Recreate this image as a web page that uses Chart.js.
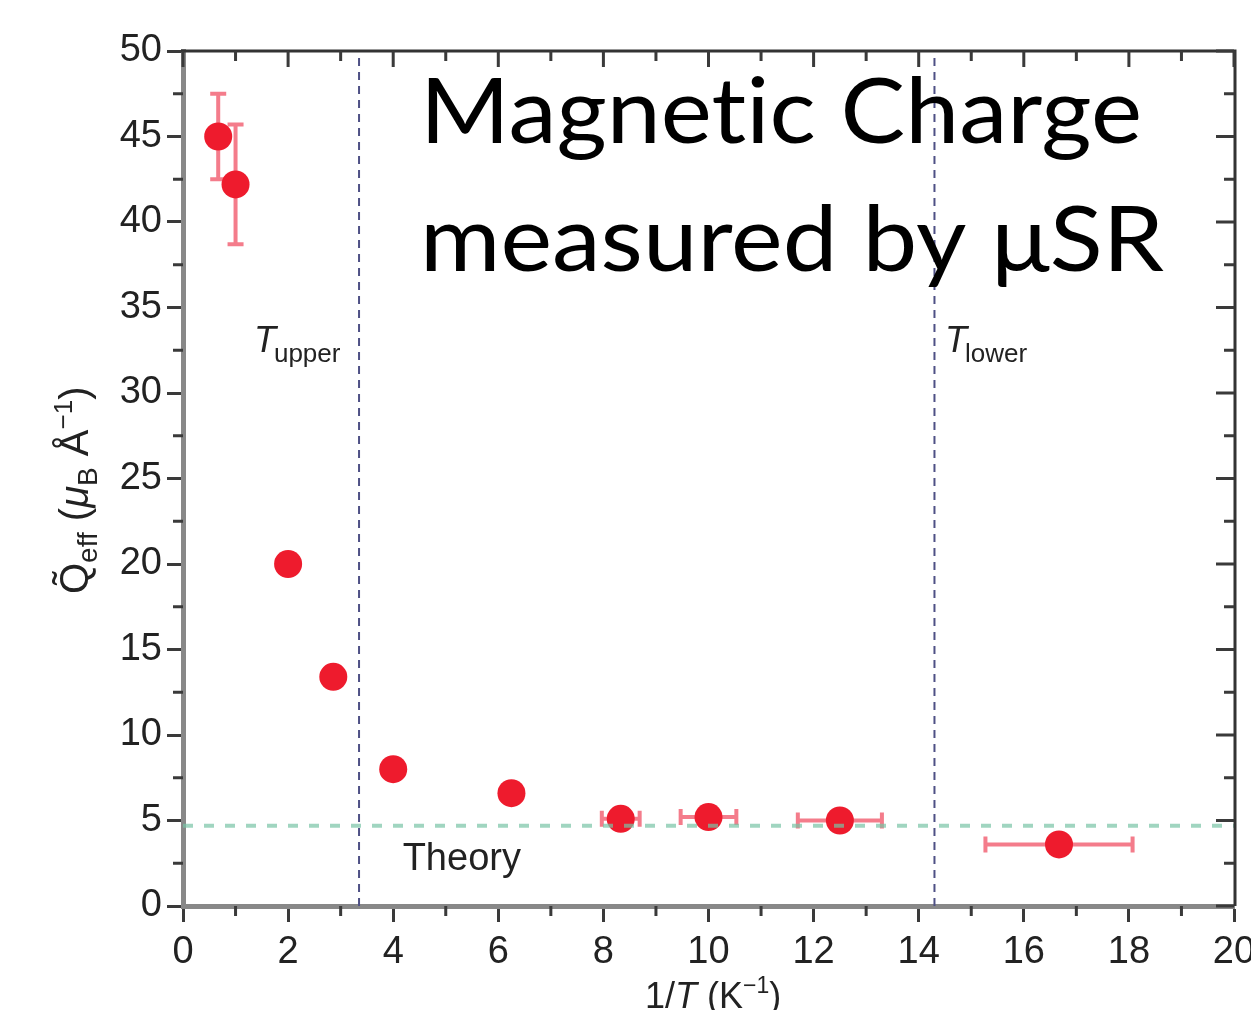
<!DOCTYPE html>
<html><head><meta charset="utf-8">
<script src="https://cdn.jsdelivr.net/npm/chart.js@4.4.0/dist/chart.umd.min.js"></script>
<style>html,body{margin:0;padding:0;background:#fff;overflow:hidden}#wrap{width:1251px;height:1010px;position:relative}</style>
</head><body><div id="wrap"><canvas id="c" width="1251" height="1010"></canvas></div>
<script>
// ---- data ----
const invT     = [0.67, 1.0, 2.0, 2.86, 4.0, 6.25, 8.33, 10.0, 12.5, 16.67];
const qEff     = [45.0, 42.2, 20.0, 13.4, 8.0, 6.6, 5.1, 5.2, 5.0, 3.6];
const qErr     = [2.5, 3.5, 0, 0, 0, 0, 0, 0, 0, 0];
const invTErr  = [0, 0, 0, 0, 0, 0, 0.36, 0.53, 0.8, 1.4];
const theoryValue = 4.7;
const tUpper = 3.35;
const tLower = 14.3;
const xTickValues = [0, 2, 4, 6, 8, 10, 12, 14, 16, 18, 20];
const yTickValues = [0, 5, 10, 15, 20, 25, 30, 35, 40, 45, 50];
const titleLines = ['Magnet\u200Cic Charge', 'measured by \u03BCSR'];

const TICKFONT = '"Liberation Sans", Arial, sans-serif';
const CA = {left: 183, top: 51, right: 1234, bottom: 906};

const points = invT.map((x, i) => ({x, y: qEff[i]}));

const decor = {
  id: 'decor',
  beforeDatasetDraw(chart, args) {
    if (args.meta.label !== 'data') return;
    const {ctx, scales: {x, y}} = chart;
    ctx.save();
    ctx.strokeStyle = 'rgba(240,80,100,0.75)';
    ctx.lineWidth = 4;
    const cap = 8;
    invT.forEach((v, i) => {
      const px = x.getPixelForValue(v), py = y.getPixelForValue(qEff[i]);
      if (qErr[i] > 0) {
        const t = y.getPixelForValue(qEff[i] + qErr[i]), b = y.getPixelForValue(qEff[i] - qErr[i]);
        ctx.beginPath();
        ctx.moveTo(px, t); ctx.lineTo(px, b);
        ctx.moveTo(px - cap, t); ctx.lineTo(px + cap, t);
        ctx.moveTo(px - cap, b); ctx.lineTo(px + cap, b);
        ctx.stroke();
      }
      if (invTErr[i] > 0) {
        const l = x.getPixelForValue(v - invTErr[i]), r = x.getPixelForValue(v + invTErr[i]);
        ctx.beginPath();
        ctx.moveTo(l, py); ctx.lineTo(r, py);
        ctx.moveTo(l, py - cap); ctx.lineTo(l, py + cap);
        ctx.moveTo(r, py - cap); ctx.lineTo(r, py + cap);
        ctx.stroke();
      }
    });
    ctx.restore();
  },
  afterDraw(chart) {
    const {ctx, scales: {x, y}, chartArea: ca} = chart;
    ctx.save();
    // top and right frame
    ctx.strokeStyle = '#333';
    ctx.lineWidth = 3;
    ctx.beginPath();
    ctx.moveTo(ca.left - 2, ca.top); ctx.lineTo(ca.right + 1, ca.top); ctx.lineTo(ca.right + 1, ca.bottom);
    ctx.stroke();
    // ticks: minor outside (bottom/left), inward on top/right
    ctx.lineWidth = 3;
    ctx.strokeStyle = '#3a3a3a';
    ctx.beginPath();
    for (let i = 0; i < xTickValues.length; i++) {
      const v = xTickValues[i];
      const px = x.getPixelForValue(v);
      ctx.moveTo(px, ca.top); ctx.lineTo(px, ca.top + 16);
      if (i < xTickValues.length - 1) {
        const m = x.getPixelForValue((v + xTickValues[i + 1]) / 2);
        ctx.moveTo(m, ca.bottom); ctx.lineTo(m, ca.bottom + 10);
        ctx.moveTo(m, ca.top); ctx.lineTo(m, ca.top + 10);
      }
    }
    for (let i = 0; i < yTickValues.length; i++) {
      const v = yTickValues[i];
      const py = y.getPixelForValue(v);
      ctx.moveTo(ca.right, py); ctx.lineTo(ca.right - 18, py);
      if (i < yTickValues.length - 1) {
        const m = y.getPixelForValue((v + yTickValues[i + 1]) / 2);
        ctx.moveTo(ca.left, m); ctx.lineTo(ca.left - 10, m);
        ctx.moveTo(ca.right, m); ctx.lineTo(ca.right - 10, m);
      }
    }
    ctx.stroke();

    // T labels and Theory
    ctx.fillStyle = '#222';
    ctx.textBaseline = 'alphabetic';
    ctx.textAlign = 'left';
    const tLabel = (xv, sub) => {
      const px = x.getPixelForValue(xv);
      ctx.font = 'italic 36px ' + TICKFONT;
      ctx.fillText('T', px, 352);
      ctx.font = '26px ' + TICKFONT;
      ctx.fillText(sub, px + 20, 362);
    };
    tLabel(1.35, 'upper');
    tLabel(14.5, 'lower');
    ctx.font = '38px ' + TICKFONT;
    ctx.fillText('Theory', x.getPixelForValue(4.18), 870);

    // big title
    ctx.fillStyle = '#000';
    ctx.font = '92px Lato, "Open Sans", sans-serif';
    const widths = [722, 744];
    const bases = [143, 271];
    titleLines.forEach((t, i) => {
      const w = ctx.measureText(t).width;
      ctx.save();
      ctx.translate(420, bases[i]);
      ctx.scale(widths[i] / w, 1);
      ctx.fillText(t, 0, 0);
      ctx.restore();
    });

    // x axis title
    ctx.fillStyle = '#222';
    let xs = 645;
    const seg = (txt, font, dy) => { ctx.font = font; ctx.fillText(txt, xs, 1008 + (dy || 0)); xs += ctx.measureText(txt).width; };
    seg('1/', '36px ' + TICKFONT);
    seg('T', 'italic 36px ' + TICKFONT);
    seg(' (K', '36px ' + TICKFONT);
    seg('\u22121', '23px ' + TICKFONT, -15);
    seg(')', '36px ' + TICKFONT);

    // y axis title (rotated)
    ctx.save();
    ctx.translate(88, 594);
    ctx.rotate(-Math.PI / 2);
    let ys = 0;
    const sy = (txt, font, dy) => { ctx.font = font; ctx.fillText(txt, ys, dy || 0); ys += ctx.measureText(txt).width; };
    sy('Q\u0303', '40px ' + TICKFONT);
    sy('eff', '28px ' + TICKFONT, 9);
    sy(' (', '40px ' + TICKFONT);
    sy('\u03BC', 'italic 40px ' + TICKFONT);
    sy('B', '28px ' + TICKFONT, 9);
    sy(' \u00C5', '40px ' + TICKFONT);
    sy('\u22121', '26px ' + TICKFONT, -16);
    sy(')', '40px ' + TICKFONT);
    ctx.restore();
    ctx.restore();
  }
};

new Chart(document.getElementById('c'), {
  type: 'scatter',
  data: {
    datasets: [
      {label: 'theory', type: 'line', data: [{x: 0, y: theoryValue}, {x: 20, y: theoryValue}],
       borderColor: 'rgba(120,195,165,0.7)', borderWidth: 4, borderDash: [10, 11], pointRadius: 0, order: 0},
      {label: 'data', data: points, backgroundColor: '#ee1b2d', borderWidth: 0, pointRadius: 14, pointHoverRadius: 14, order: 1},
      {label: 'Tupper', type: 'line', data: [{x: tUpper, y: 0}, {x: tUpper, y: 50}],
       borderColor: '#4e5085', borderWidth: 2, borderDash: [8, 6], pointRadius: 0, order: 2},
      {label: 'Tlower', type: 'line', data: [{x: tLower, y: 0}, {x: tLower, y: 50}],
       borderColor: '#4e5085', borderWidth: 2, borderDash: [8, 6], pointRadius: 0, order: 2}
    ]
  },
  options: {
    responsive: false,
    animation: false,
    devicePixelRatio: 1,
    layout: {padding: {top: CA.top, right: 1251 - CA.right, bottom: 0, left: 0}},
    plugins: {legend: {display: false}, tooltip: {enabled: false}},
    scales: {
      x: {
        type: 'linear', min: 0, max: 20, position: 'bottom',
        afterBuildTicks(s) { s.ticks = xTickValues.map(v => ({value: v})); },
        ticks: {font: {family: TICKFONT, size: 38}, color: '#222', padding: 8, maxRotation: 0, autoSkip: false},
        grid: {drawOnChartArea: false, drawTicks: true, tickLength: 16, tickColor: '#3a3a3a', tickWidth: 3},
        border: {display: true, color: '#888', width: 5},
        afterFit(s) { s.height = 1010 - CA.bottom; s.paddingLeft = 0; s.paddingRight = 0; }
      },
      y: {
        type: 'linear', min: 0, max: 50,
        afterBuildTicks(s) { s.ticks = yTickValues.map(v => ({value: v})); },
        ticks: {font: {family: TICKFONT, size: 38}, color: '#222', padding: 5},
        grid: {drawOnChartArea: false, drawTicks: true, tickLength: 16, tickColor: '#3a3a3a', tickWidth: 3},
        border: {display: true, color: '#888', width: 5},
        afterFit(s) { s.width = CA.left; s.paddingTop = 0; s.paddingBottom = 0; }
      }
    }
  },
  plugins: [decor]
});
</script></body></html>
